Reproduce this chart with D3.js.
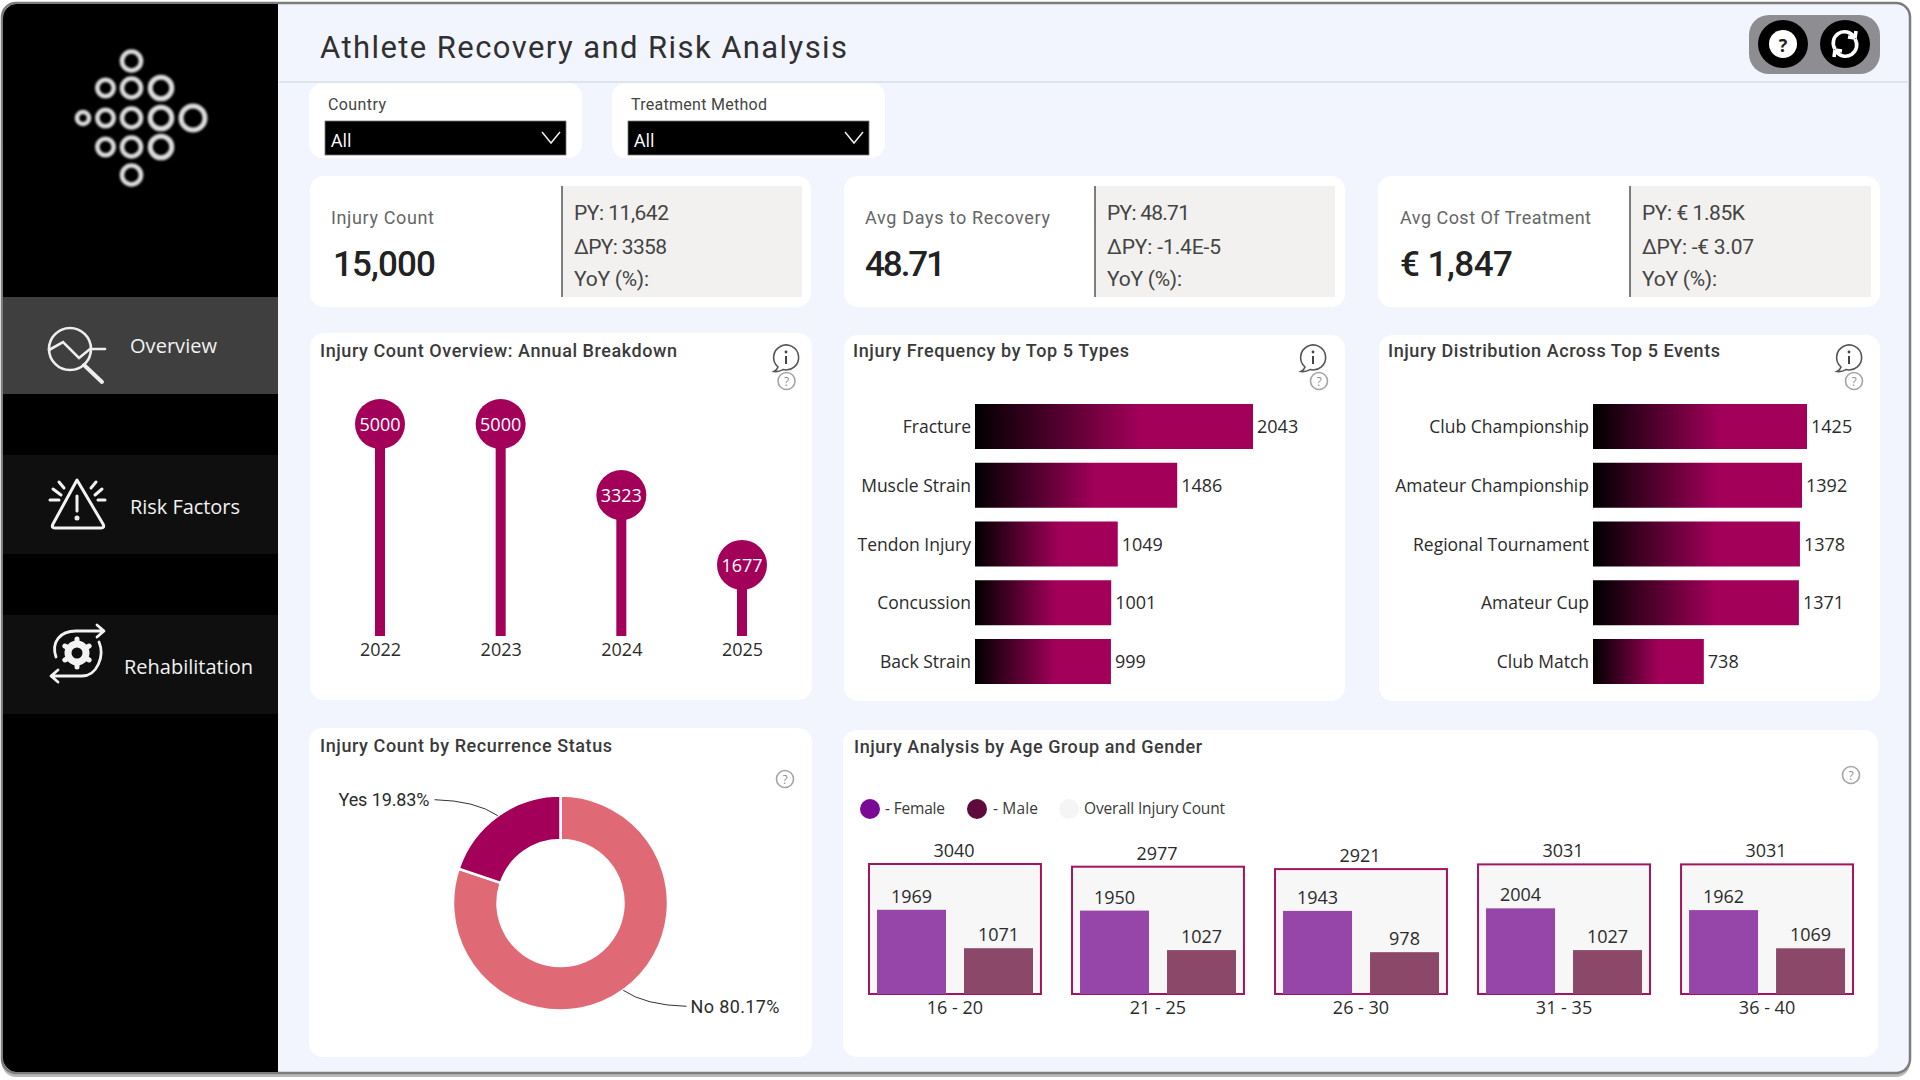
<!DOCTYPE html>
<html>
<head>
<meta charset="utf-8">
<title>Athlete Recovery and Risk Analysis</title>
<script src="https://cdn.jsdelivr.net/npm/d3@7"></script>
<style>
  html, body { margin: 0; padding: 0; background: #fff; }
  svg { display: block; }
  text { font-family: "Open Sans", sans-serif; fill: #2b2b2b; }
  .din { font-family: Roboto, sans-serif; }
</style>
</head>
<body>
<svg id="chart" width="1920" height="1080"></svg>
<script>
// chart values
const years = ['2022', '2023', '2024', '2025'];
const yearCounts = [5000, 5000, 3323, 1677];

const injuryTypes = ['Fracture', 'Muscle Strain', 'Tendon Injury', 'Concussion', 'Back Strain'];
const injuryTypeCounts = [2043, 1486, 1049, 1001, 999];

const eventNames = ['Club Championship', 'Amateur Championship', 'Regional Tournament', 'Amateur Cup', 'Club Match'];
const eventCounts = [1425, 1392, 1378, 1371, 738];

const recurrenceLabels = ['No', 'Yes'];
const recurrenceShares = [80.17, 19.83];

const ageGroups = ['16 - 20', '21 - 25', '26 - 30', '31 - 35', '36 - 40'];
const overallCounts = [3040, 2977, 2921, 3031, 3031];
const femaleCounts = [1969, 1950, 1943, 2004, 1962];
const maleCounts = [1071, 1027, 978, 1027, 1069];
const genders = ['Female', 'Male'];

const kpiTitles = ['Injury Count', 'Avg Days to Recovery', 'Avg Cost Of Treatment'];
const kpiValues = ['15,000', '48.71', '€ 1,847'];
const kpiPrevious = ['PY: 11,642', 'PY: 48.71', 'PY: € 1.85K'];
const kpiDeltas = ['ΔPY: 3358', 'ΔPY: -1.4E-5', 'ΔPY: -€ 3.07'];

const MAGENTA = '#a3005a';
const svg = d3.select('#chart');
const defs = svg.append('defs');

// small helper, text is vertically centred on y. width stretches din style text to the size in the picture
function label(parent, x, y, str, o = {}) {
  const t = parent.append('text')
    .attr('x', x).attr('y', y)
    .attr('dominant-baseline', 'central')
    .attr('text-anchor', o.anchor || 'start')
    .style('font-size', (o.size || 18) + 'px')
    .style('font-weight', o.weight || 400)
    .style('fill', o.fill || '#2b2b2b')
    .text(str);
  if (o.din) t.attr('class', 'din');
  if (o.width) t.attr('textLength', o.width).attr('lengthAdjust', 'spacing');
  return t;
}

function card(x, y, w, h) {
  svg.append('rect').attr('x', x).attr('y', y).attr('width', w).attr('height', h)
    .attr('rx', 14).attr('fill', '#fff');
}

function helpIcon(x, y, r = 8.5) {
  const g = svg.append('g').attr('transform', `translate(${x},${y})`);
  g.append('circle').attr('r', r).attr('fill', 'none').attr('stroke', '#a5a5a5').attr('stroke-width', 1.6);
  label(g, 0, 0.5, '?', { anchor: 'middle', size: 12, fill: '#8f8f8f' });
}

function infoIcon(x, y) {
  const g = svg.append('g').attr('transform', `translate(${x},${y})`);
  g.append('path')
    .attr('d', 'M-8 9 A12.5 12.5 0 1 1 -3 11.6 Q-7 14 -12 13.5 Q-9 12 -8 9 Z')
    .attr('fill', '#fff').attr('stroke', '#555').attr('stroke-width', 1.6);
  g.append('line').attr('y1', -2).attr('y2', 6).attr('stroke', '#444').attr('stroke-width', 2);
  g.append('circle').attr('cy', -6).attr('r', 1.4).attr('fill', '#444');
}

// ---------- window and sidebar ----------
svg.append('rect').attr('x', 2).attr('y', 7).attr('width', 1908).attr('height', 1070).attr('rx', 14).attr('fill', '#b9b9b9');
svg.append('rect').attr('x', 2).attr('y', 3).attr('width', 1908).attr('height', 1070).attr('rx', 14)
  .attr('fill', '#f2f5fd').attr('stroke', '#7d7d7d').attr('stroke-width', 2.5);

svg.append('path').attr('d', 'M278 4 H16 A14 14 0 0 0 3 18 V1058 A14 14 0 0 0 16 1072 H278 Z').attr('fill', '#000');

// logo, rings get bigger towards the right
defs.append('filter').attr('id', 'soft').append('feGaussianBlur').attr('stdDeviation', 0.9);
const logo = svg.append('g').attr('filter', 'url(#soft)').attr('fill', 'none').attr('stroke', '#dcdcdc');
[[131.5, 61, 9.5], [105.5, 88, 8.2], [131.5, 88, 9.5], [161, 88, 10.8],
 [83, 118, 6], [105.5, 118, 8.2], [131.5, 118, 9.5], [161, 118, 10.8], [193, 118, 12],
 [105.5, 147, 8.2], [131.5, 147, 9.5], [161, 147, 10.8], [131.5, 175, 9.5]].forEach(([x, y, r]) => {
  logo.append('circle').attr('cx', x).attr('cy', y).attr('r', r).attr('stroke-width', r > 10 ? 5 : 4.6);
});

svg.append('rect').attr('x', 3).attr('y', 297).attr('width', 275).attr('height', 97).attr('fill', '#3f3f3f');
svg.append('rect').attr('x', 3).attr('y', 455).attr('width', 275).attr('height', 99).attr('fill', '#0f0f0f');
svg.append('rect').attr('x', 3).attr('y', 615).attr('width', 275).attr('height', 99).attr('fill', '#0f0f0f');
label(svg, 130, 345, 'Overview', { size: 20, fill: '#f2f2f2', width: 87 });
label(svg, 130, 506, 'Risk Factors', { size: 20, fill: '#f2f2f2', width: 110 });
label(svg, 124, 666, 'Rehabilitation', { size: 20, fill: '#f2f2f2', width: 129 });

// overview icon
const iconOverview = svg.append('g').attr('fill', 'none').attr('stroke', '#eee').attr('stroke-width', 2.6).attr('stroke-linecap', 'round');
iconOverview.append('circle').attr('cx', 70).attr('cy', 349).attr('r', 21);
iconOverview.append('path').attr('d', 'M49 350 L63 342 L79 358 L90 349 H105');
iconOverview.append('line').attr('x1', 84).attr('y1', 365).attr('x2', 102).attr('y2', 382).attr('stroke-width', 4);

// risk icon
const iconRisk = svg.append('g').attr('fill', 'none').attr('stroke', '#f2f2f2').attr('stroke-width', 3).attr('stroke-linecap', 'round').attr('stroke-linejoin', 'round');
iconRisk.append('path').attr('d', 'M77 480 L103 524 Q105 528 101 528 H55 Q51 528 53 524 Z');
iconRisk.append('line').attr('x1', 77).attr('y1', 496).attr('x2', 77).attr('y2', 511);
iconRisk.append('circle').attr('cx', 77).attr('cy', 518).attr('r', 1).attr('fill', '#f2f2f2');
iconRisk.append('path').attr('d', 'M50 500 H59 M53 489 L61 495 M59 482 L64 488 M91 488 L96 482 M95 495 L102 489 M98 500 H105');

// rehabilitation icon
const iconRehab = svg.append('g').attr('fill', 'none').attr('stroke', '#f2f2f2').attr('stroke-width', 2.8).attr('stroke-linecap', 'round').attr('stroke-linejoin', 'round');
iconRehab.append('path').attr('d', 'M56 657 C51 642 60 631 76 631 H103 M97 625 L104 631 L97 637');
iconRehab.append('path').attr('d', 'M99 642 C105 656 97 676 82 676 H52 M58 670 L51 676 L58 682');
iconRehab.append('circle').attr('cx', 77).attr('cy', 653).attr('r', 9).attr('stroke-width', 7);
d3.range(6).forEach(i => {
  iconRehab.append('line').attr('x1', 77).attr('y1', 639).attr('x2', 77).attr('y2', 641).attr('stroke-width', 5)
    .attr('transform', `rotate(${i * 60} 77 653)`);
});

// ---------- header ----------
svg.append('line').attr('x1', 279).attr('x2', 1909).attr('y1', 82).attr('y2', 82).attr('stroke', '#d9dce4').attr('stroke-width', 1.5);
label(svg, 320, 47, 'Athlete Recovery and Risk Analysis', { din: true, size: 31, fill: '#303030', width: 527 });

svg.append('rect').attr('x', 1749).attr('y', 15).attr('width', 131).attr('height', 59).attr('rx', 20).attr('fill', '#8e8e92');
[1783, 1845].forEach(cx => {
  svg.append('ellipse').attr('cx', cx).attr('cy', 44).attr('rx', 25).attr('ry', 24).attr('fill', '#000');
});
svg.append('circle').attr('cx', 1783).attr('cy', 44).attr('r', 14).attr('fill', '#fff');
label(svg, 1783, 45, '?', { anchor: 'middle', size: 18, weight: 700, fill: '#222' });
svg.append('path').attr('d', 'M1835 49 A11 11 0 0 1 1854 37 M1855 38 L1856 31 M1855 38 L1848 37 M1855 39 A11 11 0 0 1 1836 51 M1835 50 L1834 57 M1835 50 L1842 51')
  .attr('fill', 'none').attr('stroke', '#fff').attr('stroke-width', 3.6);

// ---------- slicers ----------
[['Country', 309, 328, 58], ['Treatment Method', 612, 631, 136]].forEach(([name, x, tx, w]) => {
  svg.append('rect').attr('x', x).attr('y', 83).attr('width', 273).attr('height', 75).attr('rx', 14).attr('fill', '#fff');
  label(svg, tx, 104, name, { din: true, size: 16, fill: '#444', width: w });
  svg.append('rect').attr('x', x + 16).attr('y', 121).attr('width', 241).attr('height', 34).attr('fill', '#000').attr('stroke', '#777').attr('stroke-width', 0.8);
  label(svg, x + 22, 140, 'All', { size: 18, fill: '#fff' });
  svg.append('path').attr('d', `M${x + 233} 132 L${x + 242} 143 L${x + 251} 132`).attr('fill', 'none').attr('stroke', '#eee').attr('stroke-width', 1.5);
});

// ---------- kpi cards ----------
[[310, 501, 562, 240, 331], [844, 501, 1095, 240, 865], [1378, 502, 1630, 241, 1400]].forEach(([x, w, gx, gw, tx], i) => {
  card(x, 176, w, 131);
  svg.append('rect').attr('x', gx).attr('y', 186).attr('width', gw).attr('height', 111).attr('fill', '#f2f1ef');
  svg.append('line').attr('x1', gx).attr('x2', gx).attr('y1', 186).attr('y2', 297).attr('stroke', '#555').attr('stroke-width', 1.5);
  label(svg, tx, 217, kpiTitles[i], { din: true, size: 18, fill: '#666', width: [103, 185, 191][i] });
  label(svg, tx + (i === 0 ? 2 : 0), 264, kpiValues[i], { din: true, size: 35, weight: 500, fill: '#222', width: [103, 81, 113][i] });
  const lx = gx + 12;
  label(svg, lx, 213, kpiPrevious[i], { din: true, size: 21, fill: '#444', width: [95, 83, 103][i] });
  label(svg, lx, 247, kpiDeltas[i], { din: true, size: 21, fill: '#444', width: [93, 114, 112][i] });
  label(svg, lx, 279, 'YoY (%):', { din: true, size: 21, fill: '#444', width: 75 });
});

// ---------- lollipops ----------
card(310, 333, 502, 367);
label(svg, 320, 350, 'Injury Count Overview: Annual Breakdown', { din: true, size: 18, weight: 500, fill: '#3a3a3a', width: 357 });
infoIcon(786, 358);
helpIcon(786.5, 381);

const lolliX = d3.scalePoint().domain(years).range([380, 742]);
const lolliY = d3.scaleLinear().domain([0, 5000]).range([636, 424]);
const lolli = svg.append('g');
lolli.selectAll('rect').data(years).join('rect')
  .attr('x', d => lolliX(d) - 5).attr('width', 10)
  .attr('y', (d, i) => lolliY(yearCounts[i])).attr('height', (d, i) => lolliY(0) - lolliY(yearCounts[i]))
  .attr('fill', MAGENTA);
lolli.selectAll('circle').data(years).join('circle')
  .attr('cx', d => lolliX(d)).attr('cy', (d, i) => lolliY(yearCounts[i])).attr('r', 25)
  .attr('fill', MAGENTA);
lolli.selectAll('text').data(years).join('text')
  .attr('x', d => lolliX(d)).attr('y', (d, i) => lolliY(yearCounts[i]))
  .attr('text-anchor', 'middle').attr('dominant-baseline', 'central')
  .style('font-size', '18px').style('fill', '#fff')
  .text((d, i) => yearCounts[i]);
svg.append('g').attr('transform', `translate(0,${lolliY(0)})`)
  .call(d3.axisBottom(lolliX).tickSize(0).tickPadding(7.5))
  .call(g => g.select('.domain').remove())
  .call(g => g.selectAll('text').style('font-size', '18px').style('fill', '#2b2b2b').style('font-family', '"Open Sans", sans-serif'));

// ---------- horizontal bars with gradient ----------
const grad = defs.append('linearGradient').attr('id', 'barFade').attr('x1', 0).attr('x2', 1).attr('y1', 0).attr('y2', 0);
grad.append('stop').attr('offset', '0%').attr('stop-color', '#000');
grad.append('stop').attr('offset', '60%').attr('stop-color', MAGENTA);
grad.append('stop').attr('offset', '100%').attr('stop-color', MAGENTA);

function hBars(names, counts, x0, x1) {
  const x = d3.scaleLinear().domain([0, d3.max(counts)]).range([x0, x1]);
  const y = d3.scaleBand().domain(names).range([404, 684]).paddingInner(0.234);
  const g = svg.append('g');
  g.selectAll('rect').data(names).join('rect')
    .attr('x', x0).attr('y', d => y(d))
    .attr('width', (d, i) => x(counts[i]) - x0).attr('height', y.bandwidth())
    .attr('fill', 'url(#barFade)');
  g.selectAll('text').data(names).join('text')
    .attr('x', (d, i) => x(counts[i]) + 4).attr('y', d => y(d) + y.bandwidth() / 2 - 0.5)
    .attr('dominant-baseline', 'central')
    .style('font-size', '18px').style('fill', '#2b2b2b')
    .text((d, i) => counts[i]);
  svg.append('g').attr('transform', `translate(${x0},1)`)
    .call(d3.axisLeft(y).tickSize(0).tickPadding(4))
    .call(a => a.select('.domain').remove())
    .call(a => a.selectAll('text').style('font-size', '17.5px').style('fill', '#2b2b2b').style('font-family', '"Open Sans", sans-serif'));
}

card(844, 335, 501, 366);
label(svg, 853, 350, 'Injury Frequency by Top 5 Types', { din: true, size: 18, weight: 500, fill: '#3a3a3a', width: 276 });
infoIcon(1313, 358);
helpIcon(1319, 381);
hBars(injuryTypes, injuryTypeCounts, 975, 1253);

card(1379, 335, 501, 366);
label(svg, 1388, 350, 'Injury Distribution Across Top 5 Events', { din: true, size: 18, weight: 500, fill: '#3a3a3a', width: 332 });
infoIcon(1849, 358);
helpIcon(1854, 381);
hBars(eventNames, eventCounts, 1593, 1807);

// ---------- donut ----------
card(309, 728, 503, 329);
label(svg, 320, 745, 'Injury Count by Recurrence Status', { din: true, size: 18, weight: 500, fill: '#3a3a3a', width: 292 });
helpIcon(785, 779);

const donutCx = 560.5, donutCy = 903, outerR = 107.5, innerR = 63;
const pie = d3.pie().sort(null);
const arc = d3.arc().innerRadius(innerR).outerRadius(outerR);
const edge = d3.arc().innerRadius(outerR).outerRadius(outerR);
const donutColor = d3.scaleOrdinal().domain(recurrenceLabels).range(['#df6a75', MAGENTA]);
const donut = svg.append('g').attr('transform', `translate(${donutCx},${donutCy})`);
const slices = pie(recurrenceShares);
donut.selectAll('path').data(slices).join('path')
  .attr('d', arc)
  .attr('fill', (d, i) => donutColor(recurrenceLabels[i]))
  .attr('stroke', '#fff').attr('stroke-width', 2.5);

// leader lines start at the middle of each slice's outer edge
slices.forEach((s, i) => {
  const [ax, ay] = edge.centroid(s);
  const left = ax < 0;
  const ex = left ? -126 : 126;
  const ey = ay + (left ? -16 : 16);
  const p = d3.path();
  p.moveTo(ax, ay);
  p.quadraticCurveTo(ax + (left ? -22 : 22), ey + (left ? 1 : -1), ex, ey);
  donut.append('path').attr('d', p.toString()).attr('fill', 'none').attr('stroke', '#333').attr('stroke-width', 1);
  label(donut, left ? ex - 5 : ex + 4, ey, `${recurrenceLabels[i]} ${recurrenceShares[i].toFixed(2)}%`,
    { din: true, size: 18, anchor: left ? 'end' : 'start', fill: '#2b2b2b', width: left ? 91 : 89 });
});

// ---------- small multiples by age group ----------
card(843, 730, 1035, 327);
label(svg, 854, 746, 'Injury Analysis by Age Group and Gender', { din: true, size: 18, weight: 500, fill: '#3a3a3a', width: 348 });
helpIcon(1851, 775);

[[870, '#7a0a96', '- Female', 885, 60], [977, '#5f0a3c', '- Male', 993, 45], [1069, '#f5f5f5', 'Overall Injury Count', 1084, 141]]
  .forEach(([cx, fill, name, tx, w]) => {
    svg.append('circle').attr('cx', cx).attr('cy', 809).attr('r', 10).attr('fill', fill);
    label(svg, tx, 808, name, { size: 15.5, fill: '#3a3a3a', width: w });
  });

const ageX = d3.scaleBand().domain(ageGroups).range([869, 1853]).paddingInner(0.153);
const genderX = d3.scaleBand().domain(genders).range([8, 164]).paddingInner(0.207);
const countY = d3.scaleLinear().domain([0, 3040]).range([994, 864]);
const genderFill = d3.scaleOrdinal().domain(genders).range(['#9646a8', '#8c4868']);

const group = svg.selectAll('.age').data(ageGroups).join('g').attr('class', 'age')
  .attr('transform', d => `translate(${ageX(d)},0)`);
group.append('rect')
  .attr('y', (d, i) => countY(overallCounts[i]))
  .attr('width', ageX.bandwidth())
  .attr('height', (d, i) => countY(0) - countY(overallCounts[i]))
  .attr('fill', '#f7f7f7').attr('stroke', '#a3155f').attr('stroke-width', 2);
group.append('text')
  .attr('x', ageX.bandwidth() / 2 - 1).attr('y', (d, i) => countY(overallCounts[i]) - 14)
  .attr('text-anchor', 'middle').attr('dominant-baseline', 'central')
  .style('font-size', '18px')
  .text((d, i) => overallCounts[i]);

[femaleCounts, maleCounts].forEach((counts, g) => {
  const name = genders[g];
  group.append('rect')
    .attr('x', genderX(name)).attr('width', genderX.bandwidth())
    .attr('y', (d, i) => countY(counts[i])).attr('height', (d, i) => countY(0) - countY(counts[i]))
    .attr('fill', genderFill(name));
  group.append('text')
    .attr('x', genderX(name) + genderX.bandwidth() / 2).attr('y', (d, i) => countY(counts[i]) - 14)
    .attr('text-anchor', 'middle').attr('dominant-baseline', 'central')
    .style('font-size', '18px')
    .text((d, i) => counts[i]);
});

svg.append('g').attr('transform', `translate(0,${countY(0)})`)
  .call(d3.axisBottom(ageX).tickSize(0).tickPadding(7.5))
  .call(g => g.select('.domain').remove())
  .call(g => g.selectAll('text').style('font-size', '18px').style('fill', '#2b2b2b').style('font-family', '"Open Sans", sans-serif'));
</script>
</body>
</html>
